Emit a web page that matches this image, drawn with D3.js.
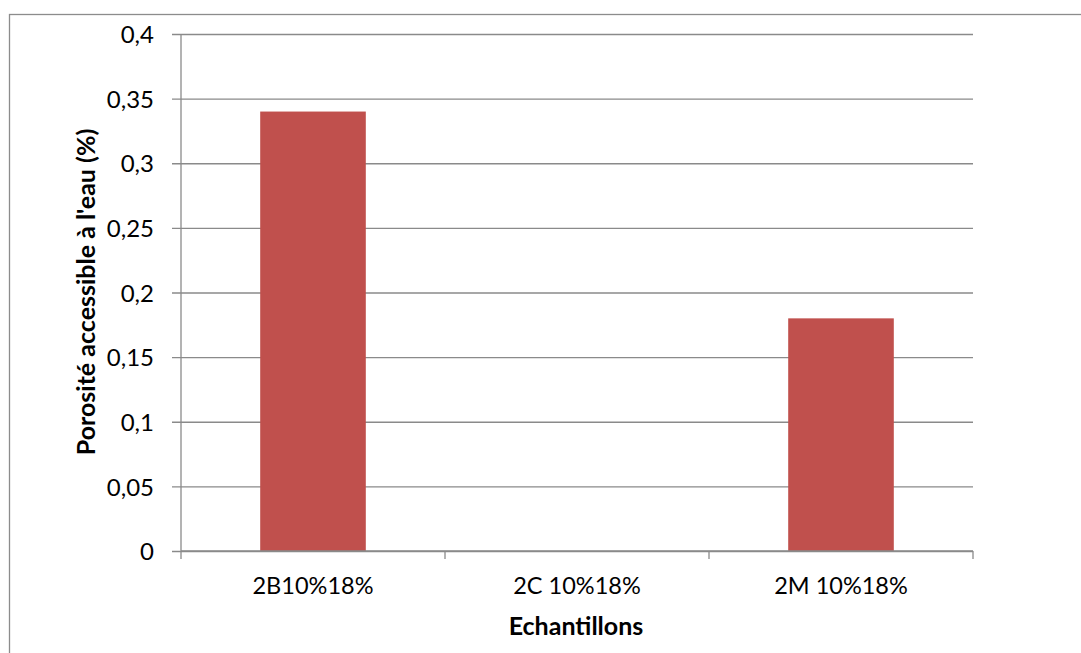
<!DOCTYPE html>
<html>
<head>
<meta charset="utf-8">
<script src="https://cdn.jsdelivr.net/npm/d3@7"></script>
<style>
  html, body { margin: 0; padding: 0; background: #fff; }
  svg { display: block; }
  text { font-family: Lato, "Open Sans", sans-serif; fill: #000; }
</style>
</head>
<body>
<svg id="chart" width="1081" height="653"></svg>
<script>
// Porosité accessible à l'eau par échantillon
const categories = ["2B10%18%", "2C 10%18%", "2M 10%18%"];
const porosity = [0.34, 0, 0.18];
const yTicks = [0, 0.05, 0.1, 0.15, 0.2, 0.25, 0.3, 0.35, 0.4];
const yTitle = "Porosité accessible à l'eau (%)";
const xTitle = "Echantillons";

const svg = d3.select("#chart");
const plot = { left: 181, right: 973, top: 34, bottom: 551 };
const gridColor = "#8a8a8a";
const barColor = "#c0504d";

// outer chart frame (runs past the right and bottom edges)
svg.append("rect")
  .attr("x", 9.5).attr("y", 14.5)
  .attr("width", 1200).attr("height", 800)
  .attr("fill", "none").attr("stroke", "#8c8c8c").attr("stroke-width", 1.3);

const x = d3.scaleBand().domain(categories)
  .range([plot.left, plot.right]).paddingInner(0.6).paddingOuter(0.3);
const xOuter = d3.scaleBand().domain(categories)
  .range([plot.left, plot.right]);
const y = d3.scaleLinear().domain([0, 0.4]).range([plot.bottom, plot.top]);

const fmt = d => d3.format("~g")(d).replace(".", ",");

// horizontal gridlines with small outside ticks
const yAxis = d3.axisLeft(y).tickValues(yTicks).tickFormat(fmt)
  .tickSize(-(plot.right - plot.left)).tickPadding(27);
const gy = svg.append("g").attr("transform", `translate(${plot.left},0)`).call(yAxis);
gy.attr("font-size", null).attr("font-family", null);
gy.select(".domain").remove();
gy.selectAll(".tick line")
  .attr("x1", -9)
  .attr("stroke", gridColor).attr("stroke-width", 1.3);
gy.selectAll(".tick text")
  .attr("font-size", 24)
  .attr("fill", "#000").attr("dy", "0.36em");

// y axis line
svg.append("line")
  .attr("x1", plot.left).attr("x2", plot.left)
  .attr("y1", plot.top).attr("y2", plot.bottom)
  .attr("stroke", gridColor).attr("stroke-width", 1.3);

// bars
svg.append("g").selectAll("rect")
  .data(categories.map((c, i) => ({ c, v: porosity[i] })))
  .join("rect")
  .attr("x", d => x(d.c))
  .attr("width", x.bandwidth())
  .attr("y", d => y(d.v))
  .attr("height", d => y(0) - y(d.v))
  .attr("fill", barColor);

// x axis line with category dividers
svg.append("line")
  .attr("x1", plot.left).attr("x2", plot.right)
  .attr("y1", plot.bottom).attr("y2", plot.bottom)
  .attr("stroke", gridColor).attr("stroke-width", 1.3);
const edges = categories.map(c => xOuter(c)).concat([plot.right]);
svg.append("g").selectAll("line").data(edges).join("line")
  .attr("x1", d => d).attr("x2", d => d)
  .attr("y1", plot.bottom).attr("y2", plot.bottom + 8)
  .attr("stroke", gridColor).attr("stroke-width", 1.3);

// category labels
svg.append("g").selectAll("text").data(categories).join("text")
  .attr("x", d => xOuter(d) + xOuter.bandwidth() / 2)
  .attr("y", 594)
  .attr("text-anchor", "middle")
  .attr("font-size", 23.5)
  .text(d => d);

// axis titles
svg.append("text")
  .attr("x", 576).attr("y", 635)
  .attr("text-anchor", "middle")
  .attr("font-size", 25).attr("font-weight", "bold")
  .text(xTitle);

svg.append("text")
  .attr("transform", `translate(95,292) rotate(-90)`)
  .attr("text-anchor", "middle")
  .attr("font-size", 25).attr("font-weight", "bold")
  .text(yTitle);
</script>
</body>
</html>
